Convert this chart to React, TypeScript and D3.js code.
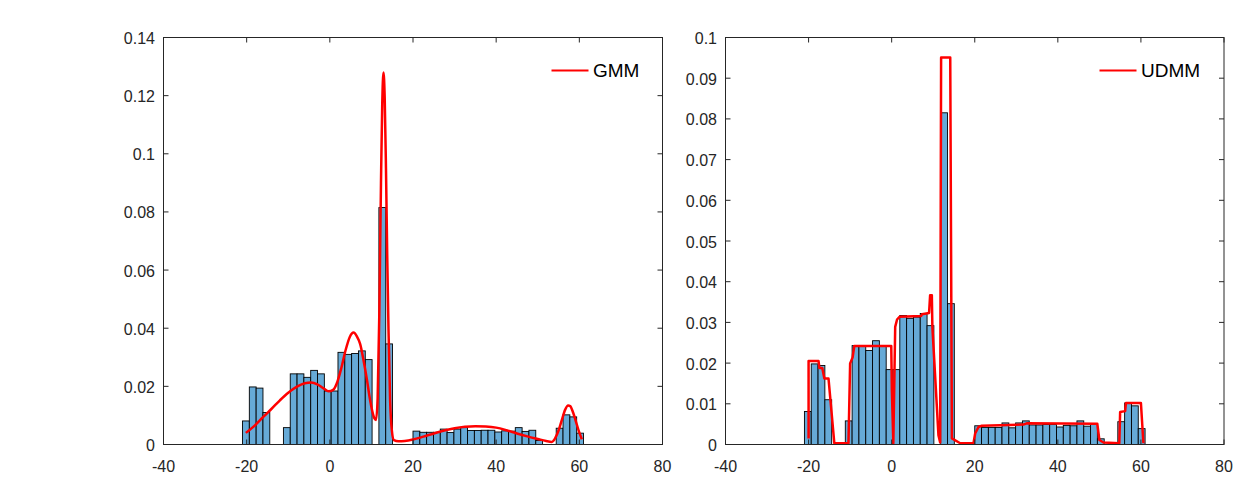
import React from 'react';
import * as d3 from 'd3';

// Histogram bin edges (51) and pdf-normalised bar heights (50), same data in both panels
const binEdges = [
  -21, -19.36, -17.72, -16.08, -14.44, -12.8, -11.16, -9.52, -7.88, -6.24,
  -4.6, -2.96, -1.32, 0.32, 1.96, 3.6, 5.24, 6.88, 8.52, 10.16,
  11.8, 13.44, 15.08, 16.72, 18.36, 20, 21.64, 23.28, 24.92, 26.56,
  28.2, 29.84, 31.48, 33.12, 34.76, 36.4, 38.04, 39.68, 41.32, 42.96,
  44.6, 46.24, 47.88, 49.52, 51.16, 52.8, 54.44, 56.08, 57.72, 59.36, 61,
];
const density = [
  0.0081, 0.0198, 0.0194, 0.011, 0, 0, 0.0058, 0.0243, 0.0243, 0.0231,
  0.0255, 0.0243, 0.0184, 0.0184, 0.0317, 0.031, 0.0313, 0.0322, 0.0292, 0,
  0.0815, 0.0346, 0, 0, 0, 0.0046, 0.0042, 0.0042, 0.0042, 0.0053,
  0.0041, 0.0053, 0.0058, 0.0048, 0.0048, 0.0049, 0.0049, 0.0043, 0.0047, 0.0046,
  0.0058, 0.0045, 0.0049, 0.0014, 0, 0, 0.0056, 0.0102, 0.0095, 0.0039,
];

// GMM fitted density (left panel)
const gmmX = [
  -20.2, -18, -16, -14, -12, -10, -8, -6, -4.5, -3, -1.5, -0.3,
  0.8, 1.8, 2.8, 3.8, 4.8, 5.7, 6.5, 7.3, 8.1, 8.9,
  9.6, 10.2, 10.7, 11.1,
  11.5, 11.9, 12.3, 12.6, 12.9, 13.2, 13.5, 13.8, 14.1, 14.5, 14.9, 15.4,
  16.5, 18, 20, 22.5, 25, 27.5, 30, 32.5, 35, 37.5, 40, 42.5, 45, 47.5, 50, 52, 53.4,
  54.2, 55, 55.8, 56.6, 57.3, 57.8, 58.5, 59.2, 59.9, 60.6,
];
const gmmY = [
  0.004, 0.0066, 0.0095, 0.0123, 0.0152, 0.0178, 0.0198, 0.0211, 0.0213, 0.0207, 0.0193, 0.0183,
  0.0188, 0.0215, 0.0265, 0.0325, 0.037, 0.0385, 0.0372, 0.0345, 0.029, 0.0225,
  0.016, 0.0115, 0.009, 0.0084,
  0.016, 0.045, 0.09, 0.117, 0.128, 0.119, 0.095, 0.065, 0.04, 0.015, 0.005, 0.0015,
  0.0011, 0.0012, 0.0017, 0.0027, 0.0038, 0.0048, 0.0056, 0.0061, 0.0063, 0.0062, 0.0058, 0.0049, 0.0038, 0.0028, 0.0019, 0.0012, 0.0009,
  0.0022, 0.0048, 0.0085, 0.012, 0.0134, 0.0132, 0.011, 0.0078, 0.0045, 0.0018,
];

// UDMM fitted density (right panel)
const udmmX = [
  -20.0, -20.0, -17.6, -17.4, -16.7, -16.2, -15.2, -13.8, -10.4, -10.0,
  -9.4, -9.0, -0.1, 0.05, 0.4, 0.85, 1.3, 1.9, 7.1, 7.3,
  9.0, 9.26, 9.67, 9.8, 11.26, 11.67, 11.9, 14.1, 14.5, 16.5,
  19.7, 20.1, 20.9, 21.7, 31.7, 32.5, 49.5, 50.0, 51.0, 54.8,
  55.0, 56.2, 56.4, 60.0, 60.6,
];
const udmmY = [
  0.0015, 0.0205, 0.0205, 0.0188, 0.0188, 0.0162, 0.0162, 0.0003, 0.0003, 0.0199,
  0.0214, 0.0242, 0.0242, 0.0133, 0.0003, 0.0289, 0.0307, 0.0314, 0.0316, 0.032,
  0.0323, 0.0367, 0.0367, 0.0289, 0.0023, 0.0005, 0.0951, 0.0951, 0.0015, 0.0003,
  0.0003, 0.0027, 0.0043, 0.0046, 0.0049, 0.0052, 0.0051, 0.0011, 0.0005, 0.0003,
  0.008, 0.0082, 0.0102, 0.0102, 0.0003,
];

const xTicks = [-40, -20, 0, 20, 40, 60, 80];
const yTicksLeft = [0, 0.02, 0.04, 0.06, 0.08, 0.1, 0.12, 0.14];
const yTicksRight = [0, 0.01, 0.02, 0.03, 0.04, 0.05, 0.06, 0.07, 0.08, 0.09, 0.1];

const AXIS = '#262626';
const FONT = '"Liberation Sans", Arial, Helvetica, sans-serif';

type PanelProps = {
  x0: number; x1: number; y0: number; y1: number;
  yMax: number; yTicks: number[];
  lx: number[]; ly: number[]; smooth: boolean;
  label: string; legendX: number;
};

function Panel({ x0, x1, y0, y1, yMax, yTicks, lx, ly, smooth, label, legendX }: PanelProps) {
  const x = d3.scaleLinear().domain([-40, 80]).range([x0, x1]);
  const y = d3.scaleLinear().domain([0, yMax]).range([y1, y0]);
  const pts: [number, number][] = lx.map((v, i) => [v, ly[i]]);
  const line = d3.line<[number, number]>()
    .x(d => x(d[0]))
    .y(d => y(d[1]))
    .curve(smooth ? d3.curveMonotoneX : d3.curveLinear);
  const tl = 5;
  return (
    <g>
      {density.map((d, i) => d > 0 ? (
        <rect key={i} x={x(binEdges[i])} y={y(d)} width={x(binEdges[i + 1]) - x(binEdges[i])}
          height={y(0) - y(d)} fill="#66AAD7" stroke="#000" strokeWidth={0.9} />
      ) : null)}
      <path d={line(pts) || ''} fill="none" stroke="#FF0000" strokeWidth={2.5} strokeLinejoin="round" />
      <rect x={x0} y={y0} width={x1 - x0} height={y1 - y0} fill="none" stroke={AXIS} strokeWidth={1} />
      {xTicks.map(t => (
        <g key={'x' + t}>
          <line x1={x(t)} x2={x(t)} y1={y1} y2={y1 - tl} stroke={AXIS} />
          <line x1={x(t)} x2={x(t)} y1={y0} y2={y0 + tl} stroke={AXIS} />
          <text x={x(t)} y={y1 + 27} textAnchor="middle" fontSize={16} fill={AXIS} fontFamily={FONT}>{String(t)}</text>
        </g>
      ))}
      {yTicks.map(t => (
        <g key={'y' + t}>
          <line x1={x0} x2={x0 + tl} y1={y(t)} y2={y(t)} stroke={AXIS} />
          <line x1={x1} x2={x1 - tl} y1={y(t)} y2={y(t)} stroke={AXIS} />
          <text x={x0 - 8.5} y={y(t) + 6.5} textAnchor="end" fontSize={16} fill={AXIS} fontFamily={FONT}>{String(t)}</text>
        </g>
      ))}
      <line x1={legendX} x2={legendX + 37} y1={70.5} y2={70.5} stroke="#FF0000" strokeWidth={2} />
      <text x={legendX + 41.5} y={77.3} fontSize={19} fill="#000" fontFamily={FONT}>{label}</text>
    </g>
  );
}

export default function App() {
  return (
    <svg width={1250} height={500} style={{ position: 'absolute', left: 0, top: 0, background: '#fff' }}>
      <rect x={0} y={0} width={1250} height={500} fill="#fff" />
      <Panel x0={163.5} x1={662.5} y0={37.5} y1={444.5} yMax={0.14} yTicks={yTicksLeft}
        lx={gmmX} ly={gmmY} smooth={true} label="GMM" legendX={551.5} />
      <Panel x0={725.5} x1={1224} y0={37.5} y1={444.5} yMax={0.1} yTicks={yTicksRight}
        lx={udmmX} ly={udmmY} smooth={false} label="UDMM" legendX={1099.5} />
    </svg>
  );
}
